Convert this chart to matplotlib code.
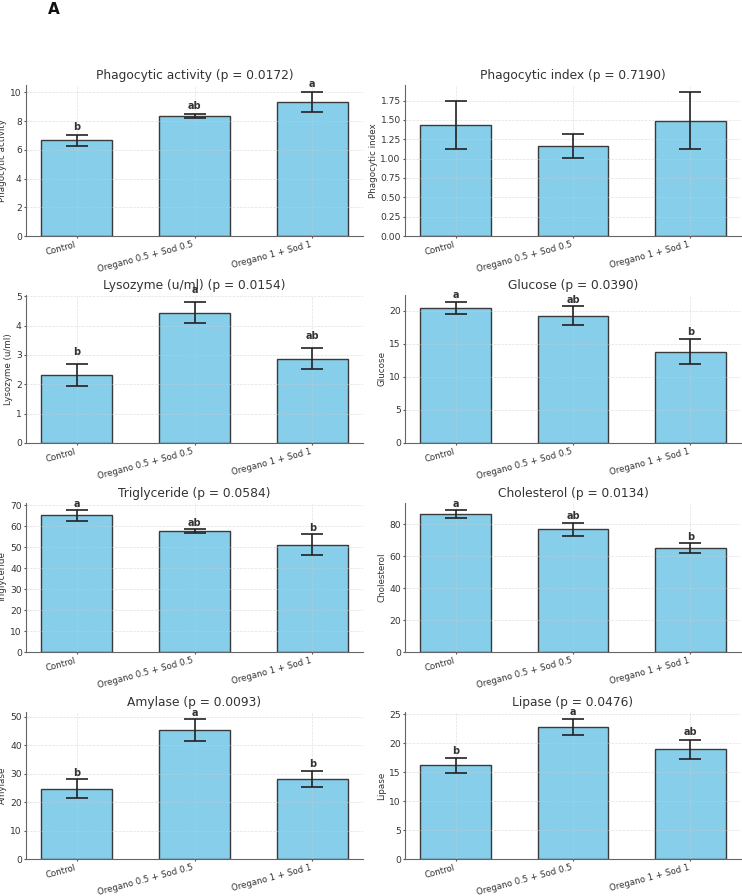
import matplotlib
matplotlib.use("Agg")
import matplotlib.pyplot as plt
import numpy as np

groups = ["Control", "Oregano 0.5 + Sod 0.5", "Oregano 1 + Sod 1"]

names = ["Phagocytic activity", "Phagocytic index", "Lysozyme (u/ml)", "Glucose",
         "Triglyceride", "Cholesterol", "Amylase", "Lipase"]
p_values = ["0.0172", "0.7190", "0.0154", "0.0390", "0.0584", "0.0134", "0.0093", "0.0476"]

phago_activity = [6.65, 8.35, 9.33]
phago_activity_sd = [0.38, 0.15, 0.68]
phago_index = [1.433, 1.164, 1.489]
phago_index_sd = [0.31, 0.155, 0.37]
lysozyme = [2.31, 4.44, 2.87]
lysozyme_sd = [0.38, 0.36, 0.36]
glucose = [20.45, 19.25, 13.83]
glucose_sd = [0.9, 1.45, 1.9]
triglyceride = [65.25, 57.65, 51.16]
triglyceride_sd = [2.55, 1.0, 5.0]
cholesterol = [86.4, 76.9, 65.2]
cholesterol_sd = [2.5, 4.2, 3.1]
amylase = [24.7, 45.3, 28.2]
amylase_sd = [3.3, 3.85, 2.8]
lipase = [16.14, 22.8, 18.9]
lipase_sd = [1.25, 1.35, 1.7]

letters = [["b", "ab", "a"], None, ["b", "a", "ab"], ["a", "ab", "b"],
           ["a", "ab", "b"], ["a", "ab", "b"], ["b", "a", "b"], ["b", "a", "ab"]]

means = [phago_activity, phago_index, lysozyme, glucose, triglyceride, cholesterol, amylase, lipase]
sds = [phago_activity_sd, phago_index_sd, lysozyme_sd, glucose_sd,
       triglyceride_sd, cholesterol_sd, amylase_sd, lipase_sd]

W, H = 742, 896
fig = plt.figure(figsize=(W / 100, H / 100), dpi=100)

cols = [(26, 363), (405, 741)]
rows = [(85, 236), (295, 443), (503, 652), (712, 859)]
letter_off = [2, 0, 5, 1.2, 1, 1, 1, 1.5]

txt = "#333333"
for i in range(8):
    r, c = divmod(i, 2)
    x0, x1 = cols[c]
    y0, y1 = rows[r]
    ax = fig.add_axes([x0 / W, 1 - y1 / H, (x1 - x0) / W, (y1 - y0) / H])
    x = np.arange(len(groups))
    ax.bar(x, means[i], yerr=sds[i], width=0.6, color="#87CEEB",
           edgecolor="#3a3a3a", linewidth=1, capsize=8,
           error_kw=dict(ecolor="#222222", elinewidth=1.2, capthick=1.2))
    if letters[i] is not None:
        for j in range(3):
            ax.annotate(letters[i][j], (x[j], means[i][j] + sds[i][j]),
                        xytext=(0, letter_off[i]), textcoords="offset points",
                        ha="center", va="bottom", fontsize=7, fontweight="bold", color=txt)
    ax.set_xticks(x)
    ax.set_xticklabels(groups, rotation=15, ha="right", fontsize=6.2, color=txt)
    ax.tick_params(axis="y", labelsize=6.6, labelcolor=txt, length=1.5, colors="#555555", pad=1.5)
    ax.tick_params(axis="x", length=1.5, colors="#555555", labelcolor=txt, pad=1.5)
    ax.set_ylabel(names[i], fontsize=6.3, color=txt, labelpad=2)
    ax.set_title(f"{names[i]} (p = {p_values[i]})", fontsize=8.8, color=txt, pad=4)
    ax.grid(True, linestyle="--", linewidth=0.5, color="#cccccc", alpha=0.6)
    for s in ["top", "right"]:
        ax.spines[s].set_visible(False)
    for s in ["left", "bottom"]:
        ax.spines[s].set_color("#666666")

fig.text(48 / W, 1 - 14 / H, "A", fontsize=11, fontweight="bold", color="#111111")

fig.savefig("out.png", dpi=100)
